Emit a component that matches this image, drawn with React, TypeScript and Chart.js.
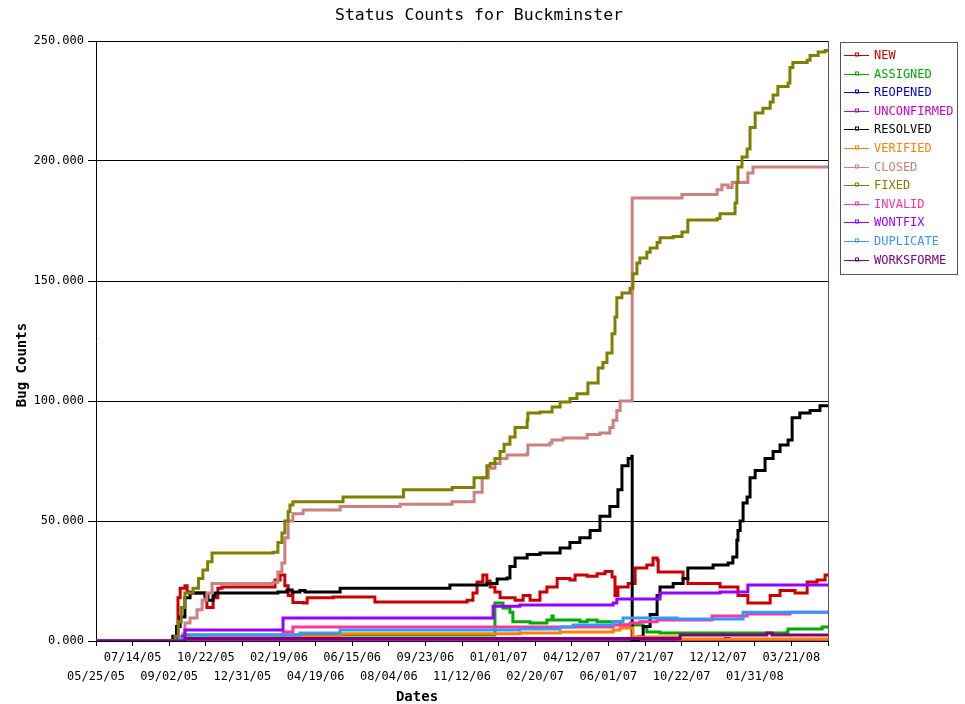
import { useEffect, useRef } from 'react';
import { Chart, registerables } from 'chart.js';

Chart.register(...registerables);

const TITLE = 'Status Counts for Buckminster';
const Y_TITLE = 'Bug Counts';
const X_TITLE = 'Dates';

// labels of the x ticks (one tick every 10 x-units)
const DATE_TICKS = [
  '05/25/05', '07/14/05', '09/02/05', '10/22/05', '12/31/05', '02/19/06', '04/19/06',
  '06/15/06', '08/04/06', '09/23/06', '11/12/06', '01/01/07', '02/20/07', '04/12/07',
  '06/01/07', '07/21/07', '10/22/07', '12/12/07', '01/31/08', '03/21/08',
];
const X_MAX = 200;
const Y_TICKS = [0, 50, 100, 150, 200, 250];

const SERIES_NAMES = [
  'NEW', 'ASSIGNED', 'REOPENED', 'UNCONFIRMED', 'RESOLVED', 'VERIFIED',
  'CLOSED', 'FIXED', 'INVALID', 'WONTFIX', 'DUPLICATE', 'WORKSFORME',
];
const SERIES_COLORS = [
  '#cc0000', '#00aa00', '#0000cc', '#cc00cc', '#000000', '#ff8000',
  '#cc8080', '#808000', '#ff3399', '#9900ff', '#3399ff', '#800080',
];

// [x position on the date axis, count] — value changes at x
const NEW_PTS = [
  [0, 0], [21, 0], [22.1, 5], [22.4, 18], [23, 22], [24.3, 23], [24.9, 20.4], [25.7, 20],
  [29.8, 17], [30.3, 14], [32, 18], [33.3, 22], [34.4, 22.5], [48.9, 25.4], [50.3, 27.5],
  [51.6, 23], [52.5, 19], [53.6, 20], [53.8, 16], [56.6, 15.8], [57.7, 18], [64.8, 18.3],
  [76.2, 16.3], [101.4, 17], [103, 20], [104.1, 24.6], [105.7, 27.5], [106.8, 25],
  [107.7, 22.5], [109, 20.4], [110.4, 18], [114.5, 17], [116.7, 19], [118.6, 17],
  [121.3, 20.4], [123.2, 22.5], [126, 26], [129.5, 25.4], [130.9, 27.5], [134.2, 27],
  [136.9, 28], [139.1, 29], [141, 26.7], [141.8, 19], [142.6, 22.5], [145.4, 24],
  [147.3, 30.4], [150.5, 31.7], [152.2, 34.6], [153.3, 33.7], [153.6, 28.7], [159.6, 28.7],
  [160.4, 26], [161.7, 24], [170.5, 22.5], [175.4, 19], [178.1, 15.8], [184.2, 19],
  [186.9, 21], [191, 20], [194.3, 24.6], [197, 25.4], [199.2, 27.5], [200, 27.5],
];
const ASSIGNED_PTS = [
  [0, 0], [23, 0], [24.3, 2.5], [108.5, 2.5], [109, 15.8], [111.2, 13.7], [113.1, 12],
  [113.9, 8], [118.6, 7.5], [123.2, 8.7], [124.6, 10.4], [124.9, 8.7], [132.2, 8],
  [134.2, 8.7], [136.9, 8], [143.2, 6.7], [149.5, 5.8], [150.5, 3.7], [154.1, 3.3],
  [188.8, 3.7], [189.1, 5], [198.4, 5.8], [200, 5.8],
];
const REOPENED_PTS = [[0, 0], [24.3, 0.5], [171.9, 1], [173, 0.5], [200, 0.5]];
const UNCONFIRMED_PTS = [[0, 0], [200, 0]];
const RESOLVED_PTS = [
  [0, 0], [20.8, 0], [21, 2], [22, 6], [23, 10], [24.3, 18], [25.7, 20], [29.8, 19],
  [30.6, 17], [32, 19], [32.5, 20], [49.7, 20.4], [52.2, 21.2], [53.6, 20.4], [55.7, 21],
  [57.1, 20.4], [66.7, 22], [96.7, 23.3], [106.8, 24], [109.6, 25.8], [112.3, 26.2],
  [113.1, 31], [114.5, 34.6], [117.8, 36], [121.3, 36.7], [126.8, 38.7], [129.5, 41],
  [132.2, 43], [135, 46], [137.7, 52], [140.4, 56], [142.6, 63], [143.7, 73], [145.4, 76],
  [146.4, 77], [146.5, 0], [148.1, 1.7], [149.5, 6], [151.4, 11], [153.3, 19], [154.1, 22.5],
  [157.7, 24], [160.4, 26], [161.7, 30.4], [168.6, 31.7], [172.7, 32.5], [174, 35],
  [175.1, 42], [175.4, 46], [176, 50], [176.8, 57.5], [177.9, 60], [178.7, 68], [180.1, 71],
  [182.8, 76], [185, 79], [186.9, 81.7], [189.1, 83.7], [190.2, 93], [192.3, 95],
  [195.1, 96], [197.8, 98], [200, 98],
];
const VERIFIED_PTS = [
  [0, 0], [24.3, 1], [30.3, 2], [66.7, 3], [115.8, 3.3], [126.8, 3.7], [141.3, 4.6],
  [143.2, 5.4], [146.7, 1.7], [159.6, 0.8], [200, 0.8],
];
const CLOSED_PTS = [
  [0, 0], [23.5, 0], [23.8, 3], [24.3, 7.5], [25.7, 9.6], [27.6, 13], [29, 17], [30.3, 20],
  [31.7, 24], [48.4, 24.5], [49.7, 28.7], [50.8, 32.5], [51.6, 43], [52.5, 50], [53.8, 53],
  [56.6, 54.6], [66.7, 56], [83.1, 57], [97.3, 58], [103.3, 62], [105.5, 68], [107.2, 72],
  [109, 74], [110.4, 76], [112.3, 77.5], [117.8, 78], [118, 81.7], [124, 82.5],
  [124.6, 83.7], [127.6, 84.6], [134.2, 86], [137.7, 86.7], [140.4, 89], [141.3, 92],
  [142.3, 96], [143.2, 100], [146.4, 100.4], [146.5, 184.6], [160.1, 186], [169.7, 188],
  [171, 190], [172.7, 189], [173.8, 191], [178.1, 195], [179.5, 197.5], [200, 197.5],
];
const FIXED_PTS = [
  [0, 0], [21.5, 0], [21.6, 2], [22.5, 8], [23.3, 14], [24.3, 20], [26.5, 22], [28, 26],
  [29.2, 29.6], [30.5, 33], [31.7, 36.7], [48.4, 37], [49.7, 41], [50.8, 45], [51.6, 50],
  [52.5, 54], [53, 56.7], [53.8, 58], [67.5, 60], [84, 63], [97.3, 64], [103.3, 68],
  [106.8, 73], [107.7, 74], [109, 76], [110.4, 79], [111.5, 82], [113.1, 85], [114.5, 89],
  [117.8, 92], [118, 95], [121.3, 95.4], [124.6, 97.5], [126.8, 99.6], [129.5, 101],
  [131.4, 103], [134.4, 107.5], [137.2, 113.7], [138.5, 116], [139.6, 120], [141, 128],
  [141.8, 135], [142.3, 143], [143.7, 145], [145.9, 147], [146.7, 153], [147.8, 157.5],
  [148.6, 159.6], [150.5, 162], [151.4, 163.7], [153.3, 166], [154.1, 168], [157.7, 168.5],
  [160.1, 170.4], [161.7, 175.4], [169.7, 176], [170.5, 178], [173.2, 178], [174.6, 182.5],
  [175.1, 191], [175.4, 197.5], [176.5, 201.7], [177.9, 205], [178.7, 214], [180.1, 220],
  [182.2, 222], [184.2, 224.6], [185, 227.5], [186.3, 231], [189.1, 232.5], [189.6, 239],
  [190.4, 241], [194.3, 242], [195.1, 244], [197.3, 245.4], [199.2, 246], [200, 246],
];
const INVALID_PTS = [
  [0, 0], [24.3, 1], [51.1, 3.7], [53.8, 5.8], [141.3, 6.7], [145.9, 7.5], [148.6, 8],
  [153.3, 8.7], [168.3, 10.4], [177.9, 11.2], [189.6, 12], [200, 12],
];
const WONTFIX_PTS = [
  [0, 0], [23.5, 2], [24.3, 4.6], [51.1, 9.6], [108.5, 14.5], [115.8, 15], [141.3, 15.8],
  [142.3, 17.5], [154.1, 20], [170.5, 20.4], [178.1, 23.3], [200, 23.3],
];
const DUPLICATE_PTS = [
  [0, 0], [23, 1], [25.7, 2.5], [55.7, 3.3], [66.7, 4.6], [115.8, 5], [126.8, 5.8],
  [130.3, 6.7], [141.3, 8], [144, 9.6], [158.7, 9.2], [176.8, 12], [200, 12],
];
const WORKSFORME_PTS = [
  [0, 0], [24.3, 1], [159.6, 2.5], [183.3, 3.3], [184.7, 2.5], [200, 2.5],
];

const SERIES_POINTS = [
  NEW_PTS, ASSIGNED_PTS, REOPENED_PTS, UNCONFIRMED_PTS, RESOLVED_PTS, VERIFIED_PTS,
  CLOSED_PTS, FIXED_PTS, INVALID_PTS, WONTFIX_PTS, DUPLICATE_PTS, WORKSFORME_PTS,
];

const MONO = '"DejaVu Sans Mono", "Liberation Mono", monospace';

const decorPlugin = {
  id: 'decor',
  afterDraw(chart: any) {
    const { ctx, chartArea } = chart;
    ctx.save();
    // right border of plot
    ctx.strokeStyle = '#555';
    ctx.lineWidth = 1;
    ctx.beginPath();
    ctx.moveTo(Math.round(chartArea.right) + 0.5, chartArea.top);
    ctx.lineTo(Math.round(chartArea.right) + 0.5, chartArea.bottom);
    ctx.stroke();

    // title
    ctx.fillStyle = '#000';
    ctx.textAlign = 'center';
    ctx.textBaseline = 'middle';
    ctx.font = `16.5px ${MONO}`;
    ctx.fillText(TITLE, 479, 16);

    // axis titles
    ctx.font = `bold 14px ${MONO}`;
    ctx.fillText(X_TITLE, 417, 697);
    ctx.save();
    ctx.translate(22, 365);
    ctx.rotate(-Math.PI / 2);
    ctx.fillText(Y_TITLE, 0, 0);
    ctx.restore();

    // legend
    const lx = 840, ly = 42, lw = 117, lh = 232;
    ctx.strokeStyle = '#555';
    ctx.strokeRect(lx + 0.5, ly + 0.5, lw, lh);
    ctx.font = `12px ${MONO}`;
    ctx.textAlign = 'left';
    SERIES_NAMES.forEach((name, i) => {
      const y = Math.round(55 + i * 18.6) + 0.5;
      const c = SERIES_COLORS[i];
      ctx.strokeStyle = c;
      ctx.lineWidth = 1;
      ctx.beginPath();
      ctx.moveTo(844, y);
      ctx.lineTo(869, y);
      ctx.stroke();
      ctx.strokeRect(855.5, y - 2.5, 3, 3);
      ctx.fillStyle = c;
      ctx.fillText(name, 874, y);
    });
    ctx.restore();
  },
};

export default function App() {
  const canvasRef = useRef<HTMLCanvasElement | null>(null);

  useEffect(() => {
    document.body.style.margin = '0';
    const canvas = canvasRef.current;
    if (!canvas) return;
    const n = SERIES_NAMES.length;
    const chart = new Chart(canvas, {
      type: 'line',
      data: {
        datasets: SERIES_NAMES.map((name, i) => ({
          label: name,
          data: SERIES_POINTS[i].map(([x, y]) => ({ x, y })),
          borderColor: SERIES_COLORS[i],
          backgroundColor: SERIES_COLORS[i],
          borderWidth: 3,
          pointRadius: 0,
          stepped: 'before' as const,
          fill: false,
          order: n - 1 - i,
          borderJoinStyle: 'miter' as const,
          borderCapStyle: 'butt' as const,
        })),
      },
      options: {
        animation: false,
        responsive: false,
        devicePixelRatio: 1,
        layout: { padding: { left: 0, top: 41, right: 137, bottom: 0 } },
        plugins: {
          legend: { display: false },
          tooltip: { enabled: false },
          title: { display: false },
        },
        scales: {
          x: {
            type: 'linear',
            min: 0,
            max: X_MAX,
            afterFit(scale: any) { scale.height = 63; },
            afterBuildTicks(scale: any) {
              const t = [];
              for (let v = 0; v <= X_MAX; v += 10) t.push({ value: v });
              scale.ticks = t;
            },
            ticks: {
              autoSkip: false,
              maxRotation: 0,
              minRotation: 0,
              padding: 2,
              color: '#000',
              font: { family: MONO, size: 12, lineHeight: 1.58 },
              callback: (value: any) => {
                const i = Math.round(Number(value) / 10);
                if (i >= DATE_TICKS.length) return '';
                return i % 2 === 0 ? ['', DATE_TICKS[i]] : [DATE_TICKS[i]];
              },
            },
            grid: {
              drawOnChartArea: false,
              drawTicks: true,
              tickLength: 5,
              color: '#000',
            },
            border: { display: true, color: '#000', width: 1 },
          },
          y: {
            type: 'linear',
            min: 0,
            max: 250,
            afterFit(scale: any) { scale.width = 96; },
            afterBuildTicks(scale: any) {
              scale.ticks = Y_TICKS.map((v) => ({ value: v }));
            },
            ticks: {
              padding: 4,
              color: '#000',
              font: { family: MONO, size: 12 },
              callback: (value: any) => Number(value).toFixed(3),
            },
            grid: {
              drawOnChartArea: true,
              drawTicks: true,
              tickLength: 8,
              color: '#000',
              lineWidth: 1,
            },
            border: { display: true, color: '#000', width: 1 },
          },
        },
      },
      plugins: [decorPlugin],
    } as any);
    return () => chart.destroy();
  }, []);

  return (
    <canvas
      ref={canvasRef}
      width={965}
      height={704}
      style={{ display: 'block', width: 965, height: 704, background: '#fff' }}
    />
  );
}
